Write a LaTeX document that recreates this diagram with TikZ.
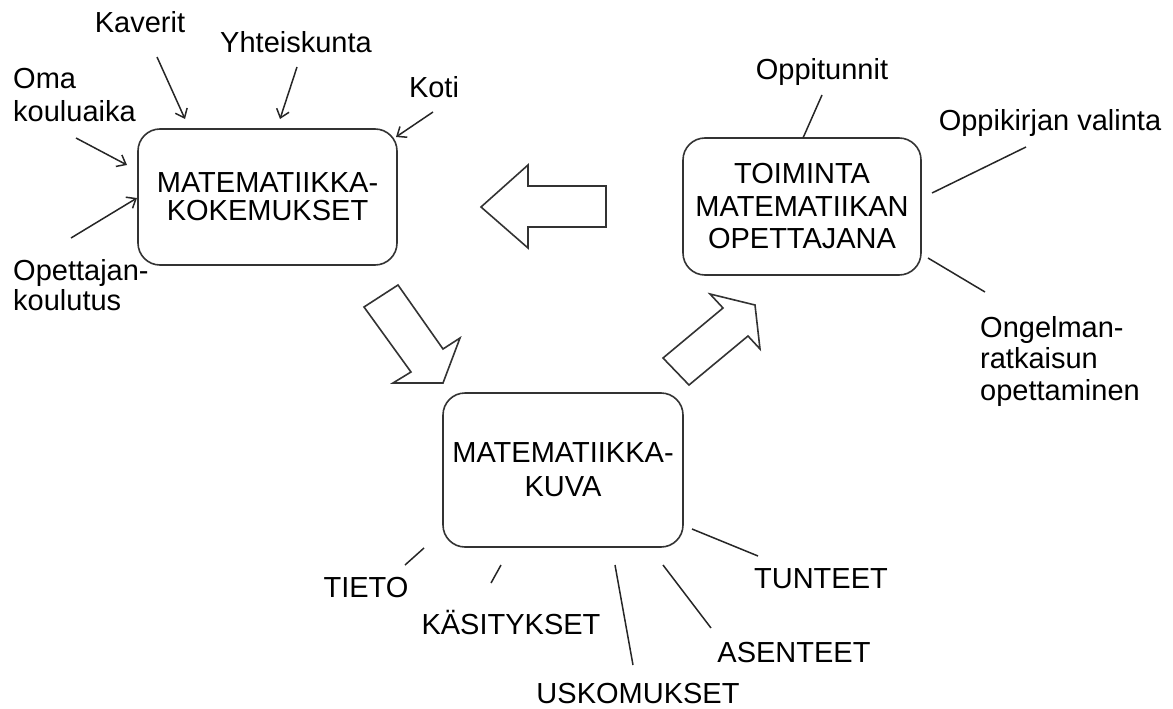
\documentclass[tikz,border=0pt]{standalone}
\usepackage{fontspec}
\setmainfont{Liberation Sans}
\usetikzlibrary{arrows.meta}
\begin{document}
\begin{tikzpicture}[x=1pt,y=-1pt,
  txt/.style={font=\fontsize{29}{32}\selectfont},
  box/.style={txt, draw=black!80, line width=1.6pt, rounded corners=22pt, align=center, inner sep=0pt},
  lbl/.style={txt, inner sep=0pt},
  con/.style={draw=black!85, line width=1.5pt},
  arr/.style={con, -{Straight Barb[length=8pt,width=13pt]}},
  blk/.style={draw=black!80, line width=1.6pt, fill=white, line join=miter}]
\useasboundingbox (0,0) rectangle (1173,709);

% boxes
\node[box, minimum width=259pt, minimum height=136pt, font=\fontsize{29}{28}\selectfont] (b1) at (267.5,197) {MATEMATIIKKA-\\KOKEMUKSET};
\node[box, minimum width=238pt, minimum height=137pt, font=\fontsize{29}{32.5}\selectfont] (b2) at (802,206.5) {TOIMINTA\\MATEMATIIKAN\\OPETTAJANA};
\node[box, minimum width=240pt, minimum height=154pt, font=\fontsize{29}{34}\selectfont] (b3) at (563,470) {MATEMATIIKKA-\\KUVA};

% labels around box 1
\node[lbl, anchor=base] (kav) at (140,33) {Kaverit};
\node[lbl, anchor=base] (yht) at (296,53) {Yhteiskunta};
\node[lbl, anchor=base] (koti) at (434,98) {Koti};
\node[lbl, anchor=north west, align=left, font=\fontsize{29}{33}\selectfont] (oma) at (13,68) {Oma\\kouluaika};
\node[lbl, anchor=north west, align=left, font=\fontsize{29}{30}\selectfont] (ope) at (13,259) {Opettajan-\\koulutus};

% labels around box 2
\node[lbl, anchor=base] (opt) at (822,80) {Oppitunnit};
\node[lbl, anchor=base] (okv) at (1050,130) {Oppikirjan valinta};
\node[lbl, anchor=north west, align=left, font=\fontsize{29}{31.5}\selectfont] (ong) at (980,316) {Ongelman-\\ratkaisun\\opettaminen};

% labels around box 3
\node[lbl, anchor=base] (tie) at (366,597) {TIETO};
\node[lbl, anchor=base] (kas) at (511,634) {KÄSITYKSET};
\node[lbl, anchor=base] (usk) at (638,703) {USKOMUKSET};
\node[lbl, anchor=base] (ase) at (794,662) {ASENTEET};
\node[lbl, anchor=base] (tun) at (821,588) {TUNTEET};

% connector end points
\coordinate (kav1) at (157,57);  \coordinate (kav2) at (185,119);
\coordinate (yht1) at (297,67);  \coordinate (yht2) at (280,119);
\coordinate (oma1) at (76,138);  \coordinate (oma2) at (127,165);
\coordinate (ope1) at (71,238);  \coordinate (ope2) at (137,198);
\coordinate (koti1) at (433,112); \coordinate (koti2) at (396,137);
\coordinate (opt1) at (822,95);  \coordinate (opt2) at (803,138);
\coordinate (okv1) at (1026,147); \coordinate (okv2) at (932,193);
\coordinate (ong1) at (928,258); \coordinate (ong2) at (985,292);
\coordinate (tie1) at (424,548); \coordinate (tie2) at (405,565);
\coordinate (kas1) at (501,565); \coordinate (kas2) at (491,583);
\coordinate (usk1) at (615,565); \coordinate (usk2) at (633,665);
\coordinate (ase1) at (663,565); \coordinate (ase2) at (711,628);
\coordinate (tun1) at (692,529); \coordinate (tun2) at (758,556);

\draw[arr] (kav1) -- (kav2);
\draw[arr] (yht1) -- (yht2);
\draw[arr] (oma1) -- (oma2);
\draw[arr] (ope1) -- (ope2);
\draw[arr] (koti1) -- (koti2);
\draw[con] (opt1) -- (opt2);
\draw[con] (okv1) -- (okv2);
\draw[con] (ong1) -- (ong2);
\draw[con] (tie1) -- (tie2);
\draw[con] (kas1) -- (kas2);
\draw[con] (usk1) -- (usk2);
\draw[con] (ase1) -- (ase2);
\draw[con] (tun1) -- (tun2);

% block arrows
\draw[blk] (481,207) -- (528,165) -- (528,186) -- (606,186) -- (606,227) -- (528,227) -- (528,248) -- cycle;
\draw[blk] (364,307) -- (398,285) -- (443,349) -- (460,338) -- (443,383) -- (393,383) -- (411,372) -- cycle;
\draw[blk] (663,358) -- (723,308) -- (710,294) -- (755,305) -- (760,349) -- (748,336) -- (689,385) -- cycle;
\end{tikzpicture}
\end{document}
